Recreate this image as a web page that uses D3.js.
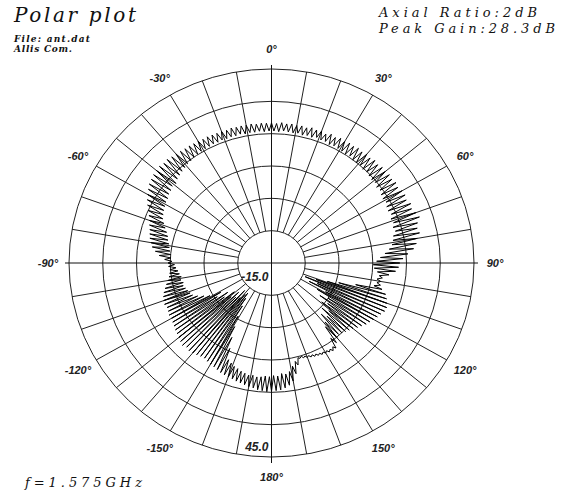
<!DOCTYPE html>
<html>
<head>
<meta charset="utf-8">
<script src="https://cdn.jsdelivr.net/npm/d3@7"></script>
<style>
body { margin: 0; background: #fff; }
</style>
</head>
<body>
<svg width="563" height="495"></svg>
<script>
// gain in dB, one value per degree, clockwise from 0 (top)
var angleStep = 1;
var gainDb = [
  25.0, 22.0, 24.8, 21.8, 25.2, 22.2, 24.9, 22.0, 25.1, 21.9,
  24.8, 22.1, 25.0, 21.7, 24.7, 22.0, 25.2, 21.8, 24.9, 22.3,
  25.1, 21.9, 24.6, 22.0, 25.3, 21.5, 24.8, 21.8, 25.4, 21.6,
  25.0, 21.4, 25.5, 21.2, 25.2, 21.5, 25.6, 21.0, 25.3, 20.8,
  25.7, 21.1, 25.4, 20.6, 25.9, 20.9, 25.5, 20.4, 26.0, 20.2,
  25.8, 20.5, 26.2, 19.8, 25.9, 20.1, 26.4, 19.5, 26.0, 19.2,
  26.5, 19.6, 26.8, 19.0, 26.3, 18.8, 27.2, 19.3, 26.7, 18.5,
  27.6, 18.9, 28.3, 18.2, 27.0, 18.6, 26.4, 17.5, 26.8, 17.0,
  25.6, 16.4, 25.0, 15.2, 23.8, 13.5, 21.6, 11.8, 19.8, 10.4,
  18.6, 9.2, 18.2, 9.6, 17.2, 10.8, 15.0, 11.6, 12.8, 11.0,
  12.4, 11.2, 12.6, 10.4, 13.5, 4.0, 15.2, -2.0, 16.0, -6.0,
  16.6, -10.0, 17.2, -14.0, 17.0, -9.0, 16.2, -12.0, 15.6, -5.0,
  15.0, -8.0, 14.2, -3.0, 13.6, -6.0, 12.6, -2.0, 11.8, -4.0,
  10.8, 0.0, 10.2, -2.5, 9.6, 1.0, 9.0, -1.0, 8.6, 2.0,
  9.4, 3.5, 10.5, 8.0, 12.0, 11.0, 12.2, 11.2, 11.9, 11.0,
  11.6, 10.8, 11.4, 10.6, 11.1, 10.3, 10.9, 10.0, 10.6, 9.8,
  10.3, 9.5, 10.0, 9.2, 9.8, 9.4, 12.0, 10.5, 15.0, 12.0,
  17.5, 13.8, 18.8, 14.5, 19.6, 14.2, 20.2, 15.0, 20.4, 14.8,
  20.6, 15.2, 20.8, 15.0, 20.5, 15.4, 20.3, 15.6, 19.8, 15.2,
  19.6, 15.4, 19.2, 15.0, 18.9, 14.6, 18.6, 14.0, 18.2, 13.6,
  18.0, 12.8, 17.8, 12.0, 17.5, 8.0, 17.0, 4.0, 16.6, 0.0,
  16.4, -4.0, 16.0, -8.0, 15.6, -11.0, 15.8, -13.0, 16.2, -12.0,
  16.6, -10.0, 16.8, -13.0, 16.4, -9.0, 17.0, -11.0, 16.5, -8.0,
  16.0, -10.0, 15.6, -6.0, 15.2, -8.0, 14.8, -4.0, 14.4, -6.0,
  14.0, -2.0, 14.2, 0.0, 13.8, 2.0, 13.6, 3.5, 14.0, 4.0,
  13.8, 4.5, 13.4, 5.0, 12.8, 5.5, 12.0, 5.2, 11.2, 5.8,
  10.4, 5.5, 9.8, 6.0, 9.4, 6.4, 9.2, 7.0, 9.6, 7.5,
  9.8, 8.4, 11.0, 8.8, 13.0, 9.0, 14.5, 9.4, 15.8, 9.8,
  16.5, 10.2, 17.2, 10.8, 17.6, 11.2, 18.0, 12.0, 18.6, 13.0,
  19.2, 14.0, 20.0, 15.0, 21.0, 15.5, 22.0, 16.0, 23.0, 16.4,
  23.8, 16.8, 24.6, 17.0, 25.4, 17.6, 25.8, 17.8, 26.2, 18.4,
  26.4, 18.0, 26.6, 18.8, 26.2, 19.2, 26.4, 19.6, 26.0, 20.0,
  25.8, 20.4, 25.6, 20.6, 25.4, 21.0, 25.4, 21.2, 25.2, 21.4,
  25.2, 21.5, 25.0, 21.6, 25.1, 21.8, 25.0, 21.7, 24.9, 21.9,
  25.0, 21.8, 24.8, 22.0, 25.1, 21.9, 24.9, 22.1, 25.0, 21.8,
  24.9, 22.0, 25.1, 21.9, 24.8, 22.1, 25.0, 21.8, 24.9, 22.0
];
var ringValues = [-15, -3, 9, 21, 33, 45];
var ringLabels = [{v: -15, text: "-15.0"}, {v: 45, text: "45.0"}];
var angleTicks = [0, 30, 60, 90, 120, 150, 180, -150, -120, -90, -60, -30];
var headerLines = [
  {text: "Polar plot", x: 14, y: 22, w: 122, size: 20, weight: "normal"},
  {text: "File: ant.dat", x: 14, y: 42, w: 76, size: 9, weight: "bold"},
  {text: "Allis Com.", x: 14, y: 52, w: 58, size: 9, weight: "bold"},
  {text: "Axial Ratio:2dB", x: 379, y: 17, w: 158, size: 13, weight: "normal"},
  {text: "Peak Gain:28.3dB", x: 379, y: 33, w: 176, size: 13, weight: "normal"},
  {text: "f=1.575GHz", x: 25, y: 487, w: 117, size: 13, weight: "normal"}
];

var svg = d3.select("svg");
var cx = 271.5, cy = 263;
var Rx = 202.5, Ry = 194;
var sy = Ry / Rx;

var r = d3.scaleLinear().domain([-27, 45]).range([0, Rx]);
var a = d3.scaleLinear().domain([0, 360]).range([0, 2 * Math.PI]);

svg.append("rect").attr("width", 563).attr("height", 495).attr("fill", "#fff");

var plot = svg.append("g")
  .attr("transform", "translate(" + cx + "," + cy + ") scale(1," + sy + ")");

//Rings
plot.selectAll("circle.ring")
  .data(ringValues)
  .enter()
  .append("circle")
  .attr("class", "ring")
  .attr("r", function(d) { return r(d); })
  .attr("fill", "none")
  .attr("stroke", "#222")
  .attr("stroke-width", 1)
  .attr("vector-effect", "non-scaling-stroke");

//Spokes every 10 degrees, inner ring to outer ring
var spokes = d3.range(0, 360, 10).filter(function(d) { return d % 90 != 0; });
plot.selectAll("line.spoke")
  .data(spokes)
  .enter()
  .append("line")
  .attr("x1", function(d) { return r(-15) * Math.sin(a(d)); })
  .attr("y1", function(d) { return -r(-15) * Math.cos(a(d)); })
  .attr("x2", function(d) { return r(45) * Math.sin(a(d)); })
  .attr("y2", function(d) { return -r(45) * Math.cos(a(d)); })
  .attr("stroke", "#222")
  .attr("stroke-width", 1)
  .attr("vector-effect", "non-scaling-stroke");

//Main cross
var ext = r(45) + 4;
plot.append("line").attr("x1", -ext).attr("x2", ext).attr("y1", 0).attr("y2", 0)
  .attr("stroke", "#111").attr("stroke-width", 1).attr("vector-effect", "non-scaling-stroke");
plot.append("line").attr("x1", 0).attr("x2", 0).attr("y1", -r(45) - 4 / sy).attr("y2", r(45) + 6 / sy)
  .attr("stroke", "#111").attr("stroke-width", 1).attr("vector-effect", "non-scaling-stroke");

//Trace
var line = d3.lineRadial()
  .angle(function(d, i) { return a(i * angleStep); })
  .radius(function(d) { return r(d); })
  .curve(d3.curveLinearClosed);

plot.append("path")
  .datum(gainDb)
  .attr("d", line)
  .attr("fill", "none")
  .attr("stroke", "#000")
  .attr("stroke-width", 1)
  .attr("stroke-linejoin", "miter")
  .attr("vector-effect", "non-scaling-stroke");

//Angle labels
svg.selectAll("text.ang")
  .data(angleTicks)
  .enter()
  .append("text")
  .attr("x", function(d) { return cx + (Rx + 21) * Math.sin(a(d)); })
  .attr("y", function(d) { return cy - (Ry + 20) * Math.cos(a(d)) + 4; })
  .attr("text-anchor", "middle")
  .style("font-family", "Liberation Sans, Arial, sans-serif")
  .style("font-style", "italic")
  .style("font-weight", "bold")
  .style("font-size", "11px")
  .attr("fill", "#222")
  .text(function(d) { return d + "°"; });

//Ring labels
svg.selectAll("text.ringlab")
  .data(ringLabels)
  .enter()
  .append("text")
  .attr("x", cx - 3)
  .attr("y", function(d) { return d.v == 45 ? cy + r(d.v) * sy - 6 : cy + 18; })
  .attr("text-anchor", "end")
  .style("font-family", "Liberation Sans, Arial, sans-serif")
  .style("font-style", "italic")
  .style("font-weight", "bold")
  .style("font-size", "12px")
  .attr("fill", "#222")
  .text(function(d) { return d.text; });

//Header and footer text
svg.selectAll("text.head")
  .data(headerLines)
  .enter()
  .append("text")
  .attr("x", function(d) { return d.x; })
  .attr("y", function(d) { return d.y; })
  .attr("textLength", function(d) { return d.w; })
  .attr("lengthAdjust", "spacing")
  .style("font-family", "DejaVu Serif, serif")
  .style("font-style", "italic")
  .style("font-weight", function(d) { return d.weight; })
  .style("font-size", function(d) { return d.size + "px"; })
  .attr("fill", "#111")
  .text(function(d) { return d.text; });
</script>
</body>
</html>
